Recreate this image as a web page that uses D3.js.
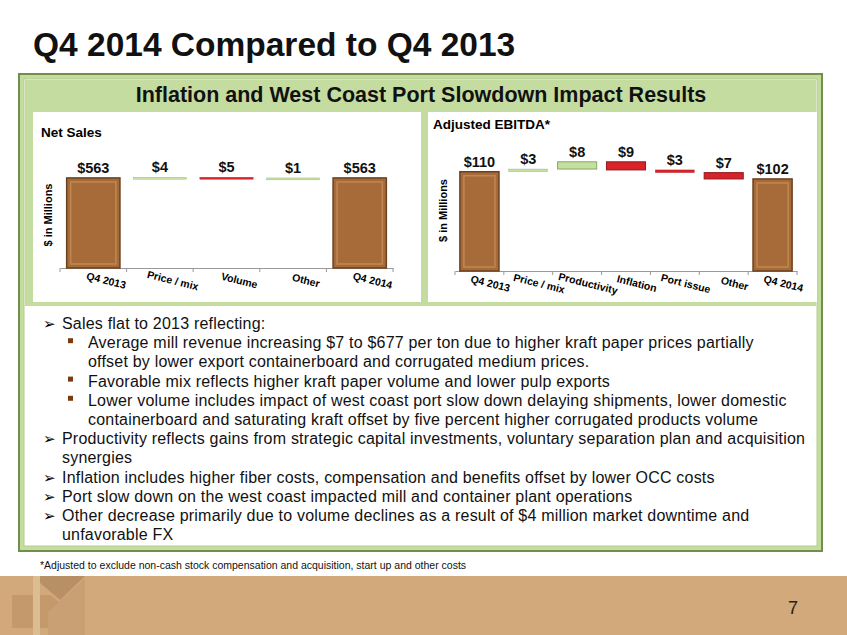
<!DOCTYPE html>
<html><head><meta charset="utf-8">
<script src="https://cdn.jsdelivr.net/npm/d3@7"></script>
<style>
body{margin:0;background:#fff;font-family:Arial,"Liberation Sans",sans-serif;}
</style></head>
<body><svg id="slide" width="847" height="635"></svg>
<script>
const salesCats = ["Q4 2013", "Price / mix", "Volume", "Other", "Q4 2014"];
const salesVals = [563, 4, -5, 1, 563];
const ebitdaCats = ["Q4 2013", "Price / mix", "Productivity", "Inflation", "Port issue", "Other", "Q4 2014"];
const ebitdaVals = [110, 3, 8, -9, -3, -7, 102];

const bullets = [
  [0, "Sales flat to 2013 reflecting:"],
  [1, "Average mill revenue increasing $7 to $677 per ton due to higher kraft paper prices partially"],
  [2, "offset by lower export containerboard and corrugated medium prices."],
  [1, "Favorable mix reflects higher kraft paper volume and lower pulp exports"],
  [1, "Lower volume includes impact of west coast port slow down delaying shipments, lower domestic"],
  [2, "containerboard and saturating kraft offset by five percent higher corrugated products volume"],
  [0, "Productivity reflects gains from strategic capital investments, voluntary separation plan and acquisition"],
  [3, "synergies"],
  [0, "Inflation includes higher fiber costs, compensation and benefits offset by lower OCC costs"],
  [0, "Port slow down on the west coast impacted mill and container plant operations"],
  [0, "Other decrease primarily due to volume declines as a result of  $4 million market downtime and"],
  [3, "unfavorable FX"]
];

const svg = d3.select("#slide");

svg.append("text").attr("x", 33).attr("y", 56).attr("font-size", 33.5).attr("font-weight", "bold")
  .attr("fill", "#111").text("Q4 2014 Compared to Q4 2013");

svg.append("rect").attr("x", 19).attr("y", 74).attr("width", 803).attr("height", 477)
  .attr("fill", "#c5dca0").attr("stroke", "#6f8f4a").attr("stroke-width", 2);
svg.append("rect").attr("x", 24).attr("y", 79).attr("width", 793).attr("height", 467)
  .attr("fill", "#fff").attr("stroke", "#b5cc90");
svg.append("rect").attr("x", 25).attr("y", 80).attr("width", 791).attr("height", 29).attr("fill", "#c5dca0");
svg.append("text").attr("x", 421).attr("y", 102).attr("text-anchor", "middle").attr("font-size", 21.5)
  .attr("font-weight", "bold").attr("fill", "#111").text("Inflation and West Coast Port Slowdown Impact Results");
svg.append("rect").attr("x", 25).attr("y", 109).attr("width", 791).attr("height", 197).attr("fill", "#c5dca0");
svg.append("rect").attr("x", 33).attr("y", 112).attr("width", 388).attr("height", 190).attr("fill", "#fff");
svg.append("rect").attr("x", 428).attr("y", 112).attr("width", 389).attr("height", 190).attr("fill", "#fff");

function waterfall(cats, vals, opt) {
  const g = svg.append("g");
  const x = d3.scaleBand().domain(cats).range([opt.x0, opt.x1]).paddingInner(0.2).paddingOuter(0.1);
  const y = d3.scaleLinear().domain([0, opt.ymax]).range([opt.base, opt.top]);
  let run = 0;
  const steps = vals.map((v, i) => {
    let a, b;
    if (i === 0 || i === vals.length - 1) { a = 0; b = v; run = v; }
    else { a = run; b = run + v; run = b; }
    return {cat: cats[i], v, a, b, total: i === 0 || i === vals.length - 1};
  });
  g.append("text").attr("x", opt.titleX).attr("y", opt.titleY).attr("font-size", 13.5).attr("font-weight", "bold")
    .text(opt.title);
  g.append("text").attr("transform", `translate(${opt.x0 - 8},${(opt.top + opt.base) / 2 - 5}) rotate(-90)`)
    .attr("text-anchor", "middle").attr("font-size", 11).attr("font-weight", "bold").text("$ in Millions");
  const axis = g.append("g").attr("transform", `translate(0,${opt.base})`)
    .call(d3.axisBottom(x).tickSize(0).tickFormat(""));
  axis.select(".domain").attr("stroke", "#999");
  const step = x.step();
  cats.forEach(c => {
    const tx = x(c) - step * x.paddingInner() / 2;
    g.append("line").attr("x1", tx).attr("x2", tx).attr("y1", opt.base).attr("y2", opt.base + 4).attr("stroke", "#999");
  });
  g.append("line").attr("x1", opt.x1).attr("x2", opt.x1).attr("y1", opt.base).attr("y2", opt.base + 4).attr("stroke", "#999");
  steps.forEach(d => {
    const yt = y(Math.max(d.a, d.b)), h = Math.max(Math.abs(y(d.a) - y(d.b)), d.total ? 0 : 2);
    const xx = x(d.cat), w = x.bandwidth();
    const up = d.v > 0;
    const fill = d.total ? "#a66b38" : (up ? "#c4dfa0" : "#d8232a");
    const edge = d.total ? "#6b4220" : (up ? "#86a860" : "#8f1a1a");
    g.append("rect").attr("x", xx).attr("y", yt).attr("width", w).attr("height", h)
      .attr("fill", fill).attr("stroke", edge).attr("stroke-width", d.total ? 1.5 : (h > 4 ? 1 : 0.3));
    if (d.total) {
      g.append("rect").attr("x", xx + 4).attr("y", yt + 4).attr("width", w - 8).attr("height", h - 8)
        .attr("fill", "none").attr("stroke", "#c08850").attr("stroke-width", 1.5);
    }
    g.append("text").attr("x", xx + w / 2).attr("y", yt - 5).attr("text-anchor", "middle")
      .attr("font-size", 14.5).attr("font-weight", "bold").attr("fill", "#111")
      .text("$" + Math.abs(d.v));
    g.append("text").attr("transform", `translate(${xx + w / 2 + opt.lblDx},${opt.base + 16}) rotate(14)`)
      .attr("text-anchor", "middle").attr("font-size", 10.5).attr("font-weight", "bold").text(d.cat);
  });
}

waterfall(salesCats, salesVals, {x0: 60, x1: 393, base: 268, top: 172, ymax: 600, title: "Net Sales", titleX: 41, titleY: 137, lblDx: 12});
waterfall(ebitdaCats, ebitdaVals, {x0: 455, x1: 797, base: 271, top: 160, ymax: 123, title: "Adjusted EBITDA*", titleX: 433, titleY: 129, lblDx: 10});

const bg = svg.append("g");
bullets.forEach((b, i) => {
  const yy = 329 + i * 19.2;
  const lvl = b[0];
  const tx = lvl === 0 || lvl === 3 ? 62 : 88;
  if (lvl === 0) bg.append("text").attr("x", 43).attr("y", yy).attr("font-size", 15).text("\u27A2");
  if (lvl === 1) bg.append("rect").attr("x", 68).attr("y", yy - 10).attr("width", 5).attr("height", 5).attr("fill", "#7a3b10");
  bg.append("text").attr("x", tx).attr("y", yy).attr("font-size", 16).attr("letter-spacing", 0.2)
    .attr("fill", "#111").text(b[1]);
});

svg.append("text").attr("x", 40).attr("y", 569).attr("font-size", 10.5).attr("fill", "#111")
  .text("*Adjusted to exclude non-cash stock compensation and acquisition, start up and other costs");

svg.append("rect").attr("x", 0).attr("y", 576).attr("width", 847).attr("height", 59).attr("fill", "#d1a97a");
svg.append("path").attr("d", "M32,576 L85,576 L60,600 Z").attr("fill", "#b89066");
svg.append("path").attr("d", "M12,595 L50,595 L70,610 L50,628 L12,628 Z").attr("fill", "#c49a6c");
svg.append("path").attr("d", "M48,612 L85,578 L85,635 L48,635 Z").attr("fill", "#c8a074");
svg.append("path").attr("d", "M33,576 L40,576 L40,635 L33,635 Z").attr("fill", "#dcbc92");
svg.append("text").attr("x", 788).attr("y", 614).attr("font-size", 18).attr("fill", "#222").text("7");
</script></body></html>
